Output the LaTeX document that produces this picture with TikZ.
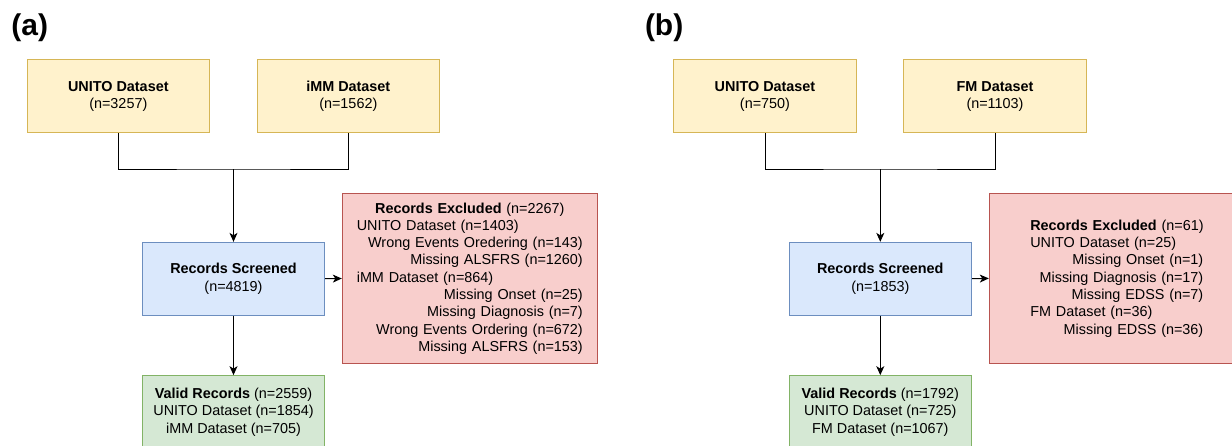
\documentclass[tikz,border=0pt]{standalone}
\usepackage{fontspec}
\setmainfont{Liberation Sans}
\usetikzlibrary{arrows.meta}

\definecolor{srcfill}{HTML}{FFF2CC}
\definecolor{srcdraw}{HTML}{D6B656}
\definecolor{scrfill}{HTML}{DAE8FC}
\definecolor{scrdraw}{HTML}{6C8EBF}
\definecolor{excfill}{HTML}{F8CECC}
\definecolor{excdraw}{HTML}{B85450}
\definecolor{valfill}{HTML}{D5E8D4}
\definecolor{valdraw}{HTML}{82B366}

\newcommand{\lrow}[1]{\makebox[\linewidth][l]{#1}}
\newcommand{\crow}[1]{\makebox[\linewidth][c]{#1}}

\begin{document}
\begin{tikzpicture}[x=1pt,y=-1pt,line width=1pt,
  every node/.style={font=\fontsize{14.4}{17.3}\selectfont},
  box/.style={draw, inner sep=0pt, minimum width=182.4pt, minimum height=72.7pt, align=center},
  src/.style={box, fill=srcfill, draw=srcdraw},
  scr/.style={box, fill=scrfill, draw=scrdraw},
  val/.style={box, fill=valfill, draw=valdraw},
  exc/.style={box, fill=excfill, draw=excdraw, minimum width=255pt, minimum height=170pt, align=right},
  tag/.style={anchor=base west, inner sep=0pt, font=\fontsize{30}{36}\selectfont\bfseries},
  arr/.style={-{Stealth[length=9pt,width=8pt,inset=2.5pt]}}]

\useasboundingbox (0,0) rectangle (1232,445);
\clip (0,0) rectangle (1232,445);

% (a)
\node[tag] (taga) at (11,35.7) {(a)};
\node[src] (ua) at (118.3,96.3) {\textbf{UNITO Dataset}\\(n=3257)};
\node[src] (ia) at (348.3,96.3) {\textbf{iMM Dataset}\\(n=1562)};
\coordinate (ja) at (233.5,169);
\node[scr] (sa) at (233.5,278.7) {\textbf{Records Screened}\\(n=4819)};
\node[exc, text width=226pt] (ea) at (469.8,278.5) {%
  \crow{\textbf{Records Excluded} (n=2267)}\\
  \lrow{UNITO Dataset (n=1403)}\\
  Wrong Events Oredering (n=143)\\
  Missing ALSFRS (n=1260)\\
  \lrow{iMM Dataset (n=864)}\\
  Missing Onset (n=25)\\
  Missing Diagnosis (n=7)\\
  Wrong Events Ordering (n=672)\\
  Missing ALSFRS (n=153)};
\node[val] (va) at (233.5,412) {\textbf{Valid Records} (n=2559)\\UNITO Dataset (n=1854)\\iMM Dataset (n=705)};

\draw (ua.south) |- (ja) -| (ia.south);
\draw[arr] (ja) -- (sa.north);
\draw[arr] (sa.east) -- (ea.west);
\draw[arr] (sa.south) -- (va.north);

% (b)
\node[tag] (tagb) at (644.5,35.7) {(b)};
\node[src] (ub) at (765,96.3) {\textbf{UNITO Dataset}\\(n=750)};
\node[src] (fb) at (995,96.3) {\textbf{FM Dataset}\\(n=1103)};
\coordinate (jb) at (880.3,169);
\node[scr] (sb) at (880.3,278.7) {\textbf{Records Screened}\\(n=1853)};
\node[exc, text width=173pt] (eb) at (1116.8,278.4) {%
  \lrow{\textbf{Records Excluded} (n=61)}\\
  \lrow{UNITO Dataset (n=25)}\\
  Missing Onset (n=1)\\
  Missing Diagnosis (n=17)\\
  Missing EDSS (n=7)\\
  \lrow{FM Dataset (n=36)}\\
  Missing EDSS (n=36)};
\node[val] (vb) at (880.3,412) {\textbf{Valid Records} (n=1792)\\UNITO Dataset (n=725)\\FM Dataset (n=1067)};

\draw (ub.south) |- (jb) -| (fb.south);
\draw[arr] (jb) -- (sb.north);
\draw[arr] (sb.east) -- (eb.west);
\draw[arr] (sb.south) -- (vb.north);

\end{tikzpicture}
\end{document}
